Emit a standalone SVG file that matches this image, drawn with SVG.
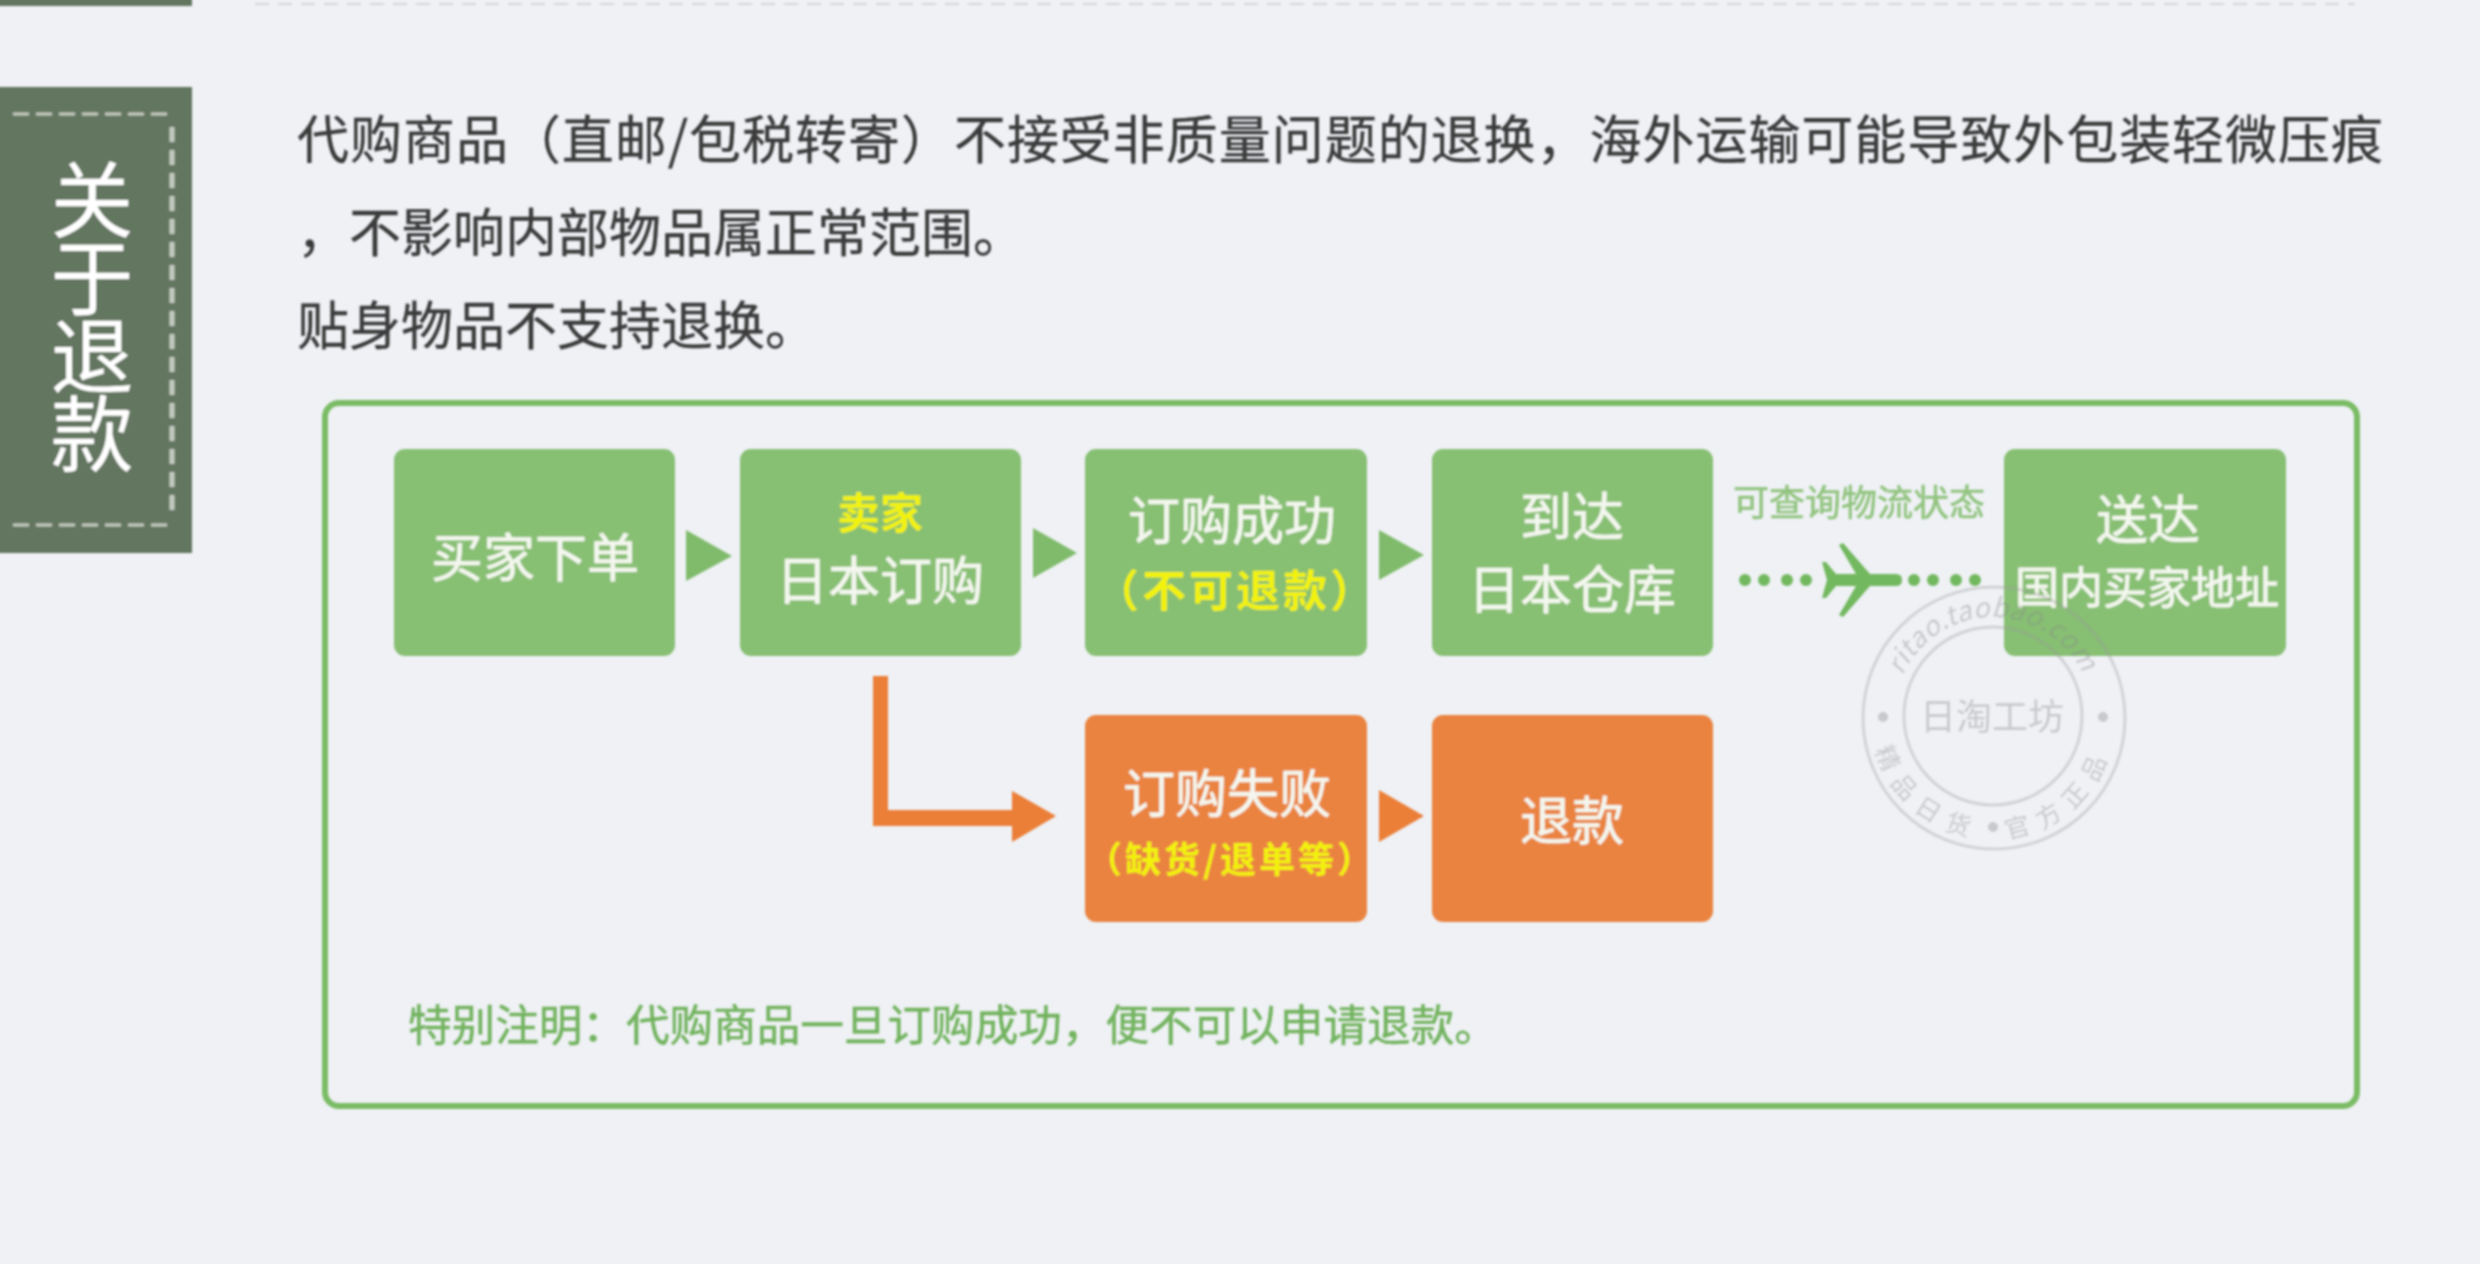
<svg xmlns="http://www.w3.org/2000/svg" width="2480" height="1264" viewBox="0 0 2480 1264">
<style>
text{font-family:"Noto Sans CJK SC","Noto Sans",sans-serif;}
.ctr{text-anchor:middle;}
.body{font-size:52px;fill:#3a3a3a;stroke:#3a3a3a;stroke-width:.3px;}
.w50{font-size:52px;fill:#f4f7ef;stroke:#f4f7ef;stroke-width:.6px;}
.y{fill:#f2f20c;font-weight:700;}
.g{fill:#87bf73;}
.o{fill:#ea8340;}
.ag{fill:#80bb6c;}
.ao{fill:#eb7f38;}
.dot{fill:#72b85e;}
.stamp{fill:none;stroke:#9a9a9a;stroke-opacity:.35;stroke-width:3;}
.st{fill:#8a8a8a;fill-opacity:.38;}
</style>
<defs>
<path id="ringTop" d="M1899 685A99 99 0 0 1 2087 685"/>
<path id="ringBot" d="M1871 717A122 122 0 0 0 2115 717"/>
<filter id="soft" filterUnits="userSpaceOnUse" x="-20" y="-20" width="2520" height="1304"><feGaussianBlur stdDeviation="1"/></filter>
</defs>
<rect width="2480" height="1264" fill="#eff1f5"/>
<g filter="url(#soft)">
<g id="top-strip">
<rect x="-15" y="-15" width="207" height="21" fill="#647661"/>
<line x1="255" y1="4" x2="2355" y2="4" stroke="#d3d6d8" stroke-width="2" stroke-dasharray="14 9"/>
</g>
<g id="sidebar">
<rect x="-15" y="87" width="207" height="466" fill="#647661"/>
<g stroke="#c3cac0" fill="none">
<line x1="13" y1="114" x2="168" y2="114" stroke-width="3" stroke-dasharray="16 7"/>
<line x1="13" y1="525" x2="168" y2="525" stroke-width="3" stroke-dasharray="16 7"/>
<line x1="172" y1="127" x2="172" y2="510" stroke-width="5" stroke-dasharray="15 8"/>
</g>
<text x="92" y="158" font-size="83" letter-spacing="-5" fill="#fff" writing-mode="vertical-rl">关于退款</text>
</g>
<g id="intro">
<text class="body" x="297" y="159" textLength="2086">代购商品（直邮/包税转寄）不接受非质量问题的退换，海外运输可能导致外包装轻微压痕</text>
<text class="body" x="297" y="252">，不影响内部物品属正常范围。</text>
<text class="body" x="297" y="345">贴身物品不支持退换。</text>
</g>
<rect id="frame" x="325" y="403" width="2032" height="703" rx="14" fill="none" stroke="#7abc65" stroke-width="6"/>
<g id="connectors">
<polygon class="ag" points="686,530 732,556 686,581"/>
<polygon class="ag" points="1033,528 1077,553 1033,578"/>
<polygon class="ag" points="1379,530 1424,555 1379,580"/>
<polygon class="ao" points="1379,790 1424,816 1379,842"/>
<path class="ao" d="M873 676H888V810H1012V791L1056 816L1012 842V826H873Z"/>
<g class="dot">
<circle cx="1745" cy="580" r="6"/><circle cx="1764" cy="580" r="6"/><circle cx="1787" cy="580" r="6"/><circle cx="1806" cy="580" r="6"/>
<circle cx="1914" cy="580" r="6"/><circle cx="1933" cy="580" r="6"/><circle cx="1956" cy="580" r="6"/><circle cx="1975" cy="580" r="6"/>
<path d="M1822 562L1826 562L1836 574H1856L1839 545L1843 543L1870 574H1896Q1902 574 1902 580Q1902 586 1896 586H1870L1843 617L1839 615L1856 586H1836L1826 598L1822 598L1827 580Z"/>
</g>
<text class="ctr" x="1859" y="516" font-size="36" fill="#92c480" stroke="#92c480" stroke-width=".6">可查询物流状态</text>
</g>
<g id="n-buyer"><rect class="g" x="394" y="449" width="281" height="207" rx="11"/><text class="ctr w50" x="535" y="577">买家下单</text></g>
<g id="n-order"><rect class="g" x="740" y="449" width="281" height="207" rx="11"/><text class="ctr y" font-size="43" x="880" y="529">卖家</text><text class="ctr w50" x="880" y="600">日本订购</text></g>
<g id="n-success"><rect class="g" x="1085" y="449" width="282" height="207" rx="11"/><text class="ctr w50" x="1232" y="540">订购成功</text><text class="ctr y" font-size="44" letter-spacing="3" x="1236" y="607">（不可退款）</text></g>
<g id="n-warehouse"><rect class="g" x="1432" y="449" width="281" height="207" rx="11"/><text class="ctr w50" x="1572" y="536">到达</text><text class="ctr w50" x="1572" y="609">日本仓库</text></g>
<g id="n-delivered"><rect class="g" x="2004" y="449" width="282" height="207" rx="11"/><text class="ctr w50" x="2148" y="539">送达</text><text class="ctr" font-size="44" fill="#f4f7ef" stroke="#f4f7ef" stroke-width=".8" x="2147" y="604">国内买家地址</text></g>
<g id="n-fail"><rect class="o" x="1085" y="715" width="282" height="207" rx="11"/><text class="ctr w50" x="1227" y="813">订购失败</text><text class="ctr y" font-size="36" letter-spacing="3" x="1231" y="873">（缺货/退单等）</text></g>
<g id="n-refund"><rect class="o" x="1432" y="715" width="281" height="207" rx="11"/><text class="ctr w50" x="1572" y="840">退款</text></g>
<text id="note" x="408" y="1041" font-size="43.6" fill="#72b35f" stroke="#72b35f" stroke-width=".5">特别注明：代购商品一旦订购成功，便不可以申请退款。</text>
<g id="stamp">
<circle class="stamp" cx="1994" cy="718" r="131"/>
<circle class="stamp" cx="1993" cy="716" r="89"/>
<text class="ctr st" x="1992" y="730" font-size="36">日淘工坊</text>
<text class="st" font-size="27" font-style="italic" textLength="225"><textPath href="#ringTop" startOffset="4%">ritao.taobao.com</textPath></text>
<text class="ctr st" font-size="25" letter-spacing="11"><textPath href="#ringBot" startOffset="27.5%">精品日货</textPath></text>
<text class="ctr st" font-size="25" letter-spacing="11"><textPath href="#ringBot" startOffset="72.5%">官方正品</textPath></text>
<circle class="st" cx="1883" cy="717" r="5"/><circle class="st" cx="2103" cy="717" r="5"/><circle class="st" cx="1993" cy="827" r="5"/>
</g>
</g>
</svg>
